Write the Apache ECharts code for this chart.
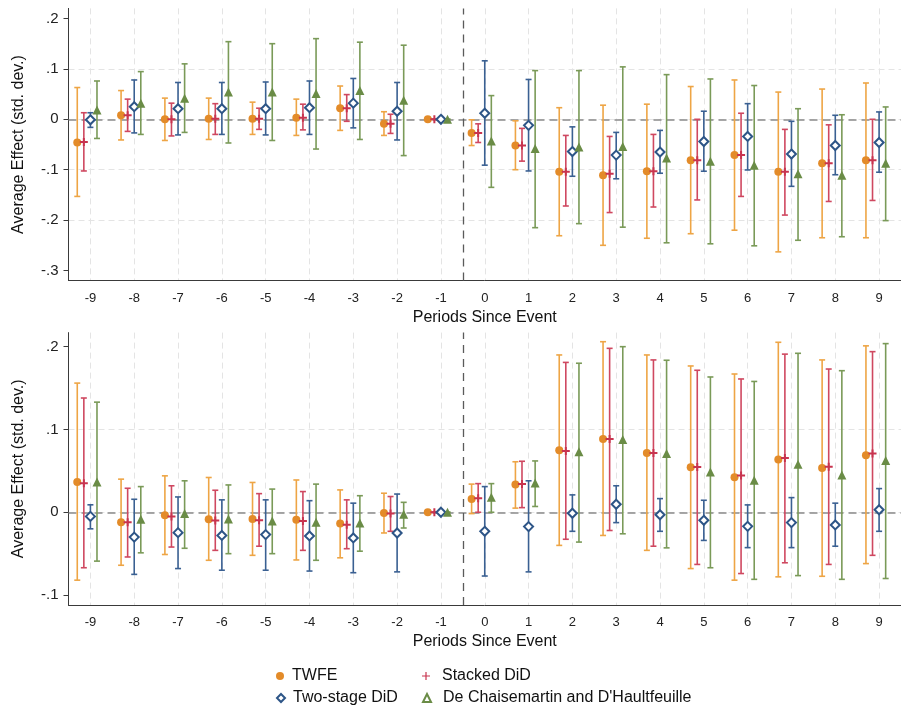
<!DOCTYPE html>
<html>
<head>
<meta charset="utf-8">
<script src="https://cdn.jsdelivr.net/npm/echarts@6.0.0/dist/echarts.min.js"></script>
<style>
  html, body { margin: 0; padding: 0; background: #fff; }
  #chart { width: 901px; height: 708px; }
</style>
</head>
<body>
<div id="chart"></div>
<script>
// 横轴: 事件前后期数
var periods = [-9, -8, -7, -6, -5, -4, -3, -2, -1, 0, 1, 2, 3, 4, 5, 6, 7, 8, 9];
var methods = ['TWFE', 'Stacked DiD', 'Two-stage DiD', "De Chaisemartin and D'Haultfeuille"];
var yTicksTop = [-0.3, -0.2, -0.1, 0, 0.1, 0.2];
var yTicksBottom = [-0.1, 0, 0.1, 0.2];

// 上图 - 点估计与置信区间
var twfeEstTop = [-0.046, 0.008, 0, 0.001, 0.001, 0.003, 0.022, -0.009, 0, -0.027, -0.052, -0.104, -0.111, -0.103, -0.081, -0.071, -0.104, -0.087, -0.081];
var twfeLoTop = [-0.153, -0.041, -0.042, -0.040, -0.030, -0.032, -0.022, -0.032, 0, -0.052, -0.100, -0.231, -0.250, -0.236, -0.227, -0.220, -0.263, -0.235, -0.235];
var twfeHiTop = [0.063, 0.057, 0.042, 0.042, 0.034, 0.040, 0.066, 0.015, 0, -0.001, -0.003, 0.023, 0.028, 0.030, 0.065, 0.078, 0.054, 0.060, 0.072];

var stackEstTop = [-0.045, 0.008, 0, 0.001, 0.001, 0.003, 0.022, -0.009, 0, -0.027, -0.052, -0.104, -0.108, -0.103, -0.081, -0.071, -0.104, -0.087, -0.081];
var stackLoTop = [-0.1025, -0.024, -0.033, -0.030, -0.020, -0.021, -0.004, -0.028, 0, -0.046, -0.083, -0.172, -0.185, -0.174, -0.160, -0.153, -0.190, -0.163, -0.161];
var stackHiTop = [0.013, 0.040, 0.032, 0.031, 0.022, 0.030, 0.049, 0.010, 0, -0.009, -0.018, -0.032, -0.034, -0.030, 0, 0.012, -0.020, -0.011, 0];

var twoEstTop = [-0.001, 0.025, 0.021, 0.021, 0.021, 0.023, 0.032, 0.016, 0, 0.012, -0.012, -0.064, -0.071, -0.065, -0.044, -0.034, -0.069, -0.052, -0.046];
var twoLoTop = [-0.016, -0.027, -0.031, -0.030, -0.031, -0.030, -0.017, -0.041, 0, -0.091, -0.1025, -0.113, -0.118, -0.107, -0.103, -0.1005, -0.133, -0.110, -0.105];
var twoHiTop = [0.013, 0.078, 0.073, 0.073, 0.074, 0.076, 0.081, 0.073, 0, 0.116, 0.079, -0.015, -0.026, -0.022, 0.016, 0.031, -0.004, 0.008, 0.0146];

var dchEstTop = [0.0185, 0.032, 0.042, 0.054, 0.054, 0.051, 0.057, 0.038, 0, -0.043, -0.058, -0.055, -0.054, -0.077, -0.083, -0.091, -0.108, -0.111, -0.087];
var dchLoTop = [-0.038, -0.030, -0.026, -0.047, -0.042, -0.059, -0.040, -0.072, 0, -0.135, -0.215, -0.207, -0.214, -0.245, -0.247, -0.251, -0.240, -0.233, -0.201];
var dchHiTop = [0.076, 0.0946, 0.110, 0.154, 0.150, 0.160, 0.153, 0.147, 0, 0.047, 0.0966, 0.0966, 0.104, 0.0886, 0.080, 0.067, 0.021, 0.009, 0.0245];

// 下图 - 点估计与置信区间
var twfeEstBot = [0.0366, -0.012, -0.0036, -0.0085, -0.008, -0.0089, -0.0137, -0.001, 0, 0.016, 0.0334, 0.075, 0.0886, 0.0717, 0.0543, 0.0423, 0.0636, 0.0535, 0.069];
var twfeLoBot = [-0.082, -0.064, -0.051, -0.058, -0.052, -0.0576, -0.055, -0.025, 0, -0.0016, 0.005, -0.040, -0.028, -0.046, -0.068, -0.082, -0.078, -0.0773, -0.062];
var twfeHiBot = [0.156, 0.040, 0.044, 0.042, 0.036, 0.039, 0.027, 0.023, 0, 0.034, 0.061, 0.190, 0.206, 0.190, 0.1767, 0.167, 0.2053, 0.184, 0.201];

var stackEstBot = [0.035, -0.012, -0.005, -0.010, -0.0097, -0.0105, -0.015, -0.0016, 0, 0.017, 0.034, 0.074, 0.0886, 0.0717, 0.0548, 0.0443, 0.0656, 0.055, 0.071];
var stackLoBot = [-0.067, -0.054, -0.042, -0.046, -0.041, -0.046, -0.044, -0.023, 0, 0, 0.0056, -0.0326, -0.022, -0.041, -0.063, -0.074, -0.061, -0.063, -0.052];
var stackHiBot = [0.138, 0.029, 0.032, 0.0266, 0.0225, 0.025, 0.015, 0.019, 0, 0.0346, 0.0616, 0.181, 0.198, 0.184, 0.1715, 0.161, 0.191, 0.173, 0.194];

var twoEstBot = [-0.005, -0.030, -0.0246, -0.028, -0.027, -0.0286, -0.031, -0.025, 0, -0.023, -0.0173, -0.0012, 0.0097, -0.003, -0.0097, -0.017, -0.0125, -0.0153, 0.003];
var twoLoBot = [-0.020, -0.075, -0.068, -0.070, -0.070, -0.071, -0.073, -0.072, 0, -0.077, -0.072, -0.023, -0.0125, -0.023, -0.034, -0.0427, -0.0427, -0.041, -0.023];
var twoHiBot = [0.009, 0.0157, 0.0185, 0.015, 0.015, 0.014, 0.011, 0.022, 0, 0.031, 0.038, 0.021, 0.032, 0.0165, 0.0145, 0.0089, 0.0177, 0.011, 0.0286];

var dchEstBot = [0.0366, -0.0085, -0.0016, -0.008, -0.0105, -0.012, -0.013, -0.0024, 0, 0.018, 0.0354, 0.073, 0.088, 0.071, 0.0487, 0.0386, 0.058, 0.045, 0.0624];
var dchLoBot = [-0.059, -0.049, -0.0435, -0.050, -0.050, -0.058, -0.047, -0.019, 0, 0, 0.007, -0.036, -0.026, -0.043, -0.067, -0.081, -0.0765, -0.081, -0.080];
var dchHiBot = [0.133, 0.031, 0.038, 0.033, 0.028, 0.034, 0.020, 0.012, 0, 0.0346, 0.062, 0.180, 0.200, 0.1836, 0.1634, 0.158, 0.192, 0.171, 0.2037];

var fontFamily = '"Liberation Sans", Arial, sans-serif';
var markColors = ['#E38B29', '#C8344F', '#2D5587', '#6A8C46'];
var barColors = ['#EEA545', '#CF4860', '#3A6092', '#7A9A58'];
var symbols = ['circle', 'path://M3,0H5V3H8V5H5V8H3V5H0V3H3Z', 'emptyDiamond', 'triangle'];
var legendIcons = ['circle', 'path://M3.4,0H4.6V3.4H8V4.6H4.6V8H3.4V4.6H0V3.4H3.4Z', 'emptyDiamond', 'emptyTriangle'];
var symbolSizes = [8, 8, 9, 9];
var dodge = [-0.3, -0.15, 0, 0.15];

var panels = [
    {est: [twfeEstTop, stackEstTop, twoEstTop, dchEstTop], lo: [twfeLoTop, stackLoTop, twoLoTop, dchLoTop], hi: [twfeHiTop, stackHiTop, twoHiTop, dchHiTop]},
    {est: [twfeEstBot, stackEstBot, twoEstBot, dchEstBot], lo: [twfeLoBot, stackLoBot, twoLoBot, dchLoBot], hi: [twfeHiBot, stackHiBot, twoHiBot, dchHiBot]}
];

// 刻度文字 .2 / -.1 格式
function stataLabel(v) {
    if (Math.abs(v) < 1e-9) return '0';
    return String(+v.toFixed(2)).replace('0.', '.');
}

var grids = [
    {left: 68.5, width: 846, top: 8.4, height: 272.2},
    {left: 68.5, width: 846, top: 332.6, height: 272.4}
];

var axisLineStyle = {color: '#3a3a3a', width: 1};
var gridLineStyle = {color: '#e4e4e4', width: 1, type: [6, 4]};

var xAxes = [], yAxes = [];
[0, 1].forEach(function (g) {
    xAxes.push({
        type: 'category', gridIndex: g, data: periods, boundaryGap: true, position: 'bottom',
        name: 'Periods Since Event', nameLocation: 'middle', nameGap: 29,
        nameTextStyle: {fontFamily: fontFamily, fontSize: 16, color: '#111'},
        axisLine: {onZero: false, lineStyle: axisLineStyle},
        axisTick: {alignWithLabel: true, length: 5, lineStyle: axisLineStyle},
        axisLabel: {fontFamily: fontFamily, fontSize: 13, color: '#222', margin: 11, interval: 0},
        splitLine: {show: true, alignWithLabel: true, lineStyle: gridLineStyle}
    });
    xAxes.push({
        type: 'value', gridIndex: g, min: -9.5, max: 9.5, show: false,
        axisLine: {onZero: false}
    });
    var ticks = g === 0 ? yTicksTop : yTicksBottom;
    yAxes.push({
        type: 'value', gridIndex: g, position: 'left',
        min: g === 0 ? -0.32 : -0.112, max: g === 0 ? 0.22 : 0.217,
        minInterval: 0.1, maxInterval: 0.1, splitNumber: 4,
        name: 'Average Effect (std. dev.)', nameLocation: 'middle', nameGap: 42,
        nameTextStyle: {fontFamily: fontFamily, fontSize: 16, color: '#111'},
        axisLine: {show: true, onZero: false, lineStyle: axisLineStyle},
        axisTick: {show: true, length: 5, lineStyle: axisLineStyle, customValues: ticks},
        axisLabel: {fontFamily: fontFamily, fontSize: 15, color: '#222', margin: 10, customValues: ticks, formatter: stataLabel},
        splitLine: {show: true, showMinLine: false, showMaxLine: false, lineStyle: gridLineStyle}
    });
});

// 误差线
function renderErrorBar(params, api) {
    var x = api.value(0);
    var top = api.coord([x, api.value(2)]);
    var bot = api.coord([x, api.value(1)]);
    var cap = 3;
    var style = {stroke: api.visual('color'), lineWidth: 1.6};
    return {
        type: 'group',
        children: [
            {type: 'line', shape: {x1: top[0], y1: top[1], x2: bot[0], y2: bot[1]}, style: style},
            {type: 'line', shape: {x1: top[0] - cap, y1: top[1], x2: top[0] + cap, y2: top[1]}, style: style},
            {type: 'line', shape: {x1: bot[0] - cap, y1: bot[1], x2: bot[0] + cap, y2: bot[1]}, style: style}
        ]
    };
}

var series = [];
panels.forEach(function (p, g) {
    // 参考线: 0 水平线, -0.5 竖线
    series.push({
        type: 'scatter', xAxisIndex: g * 2 + 1, yAxisIndex: g, data: [], silent: true, z: 1,
        markLine: {
            silent: true, symbol: 'none', z: 1, label: {show: false},
            data: [
                {yAxis: 0, lineStyle: {color: '#8a8a8a', width: 1.5, type: [8, 5]}},
                {xAxis: -0.5, lineStyle: {color: '#5a5a5a', width: 1.3, type: [8, 6]}}
            ]
        }
    });
    methods.forEach(function (m, k) {
        var bars = periods.map(function (t, i) {
            return [t + dodge[k], p.lo[k][i], p.hi[k][i]];
        });
        var pts = periods.map(function (t, i) {
            return [t + dodge[k], p.est[k][i]];
        });
        series.push({
            type: 'custom', name: m + ' CI', xAxisIndex: g * 2 + 1, yAxisIndex: g, z: 2,
            itemStyle: {color: barColors[k]}, renderItem: renderErrorBar,
            encode: {x: 0, y: [1, 2]}, data: bars, silent: true
        });
        series.push({
            type: 'scatter', name: m, xAxisIndex: g * 2 + 1, yAxisIndex: g, z: 3,
            symbol: symbols[k], symbolSize: symbolSizes[k],
            itemStyle: {color: markColors[k], borderColor: markColors[k], borderWidth: k === 2 ? 1.6 : 0, opacity: 1},
            data: pts, silent: true
        });
    });
});

// 图例: 两行两列, 每项单独放
var legendPos = [[276, 668, 3], [422, 668, 7], [276, 690, 3], [422, 690, 7]];
var legends = methods.map(function (m, k) {
    return {
        left: legendPos[k][0], top: legendPos[k][1], itemWidth: 8, itemHeight: 8,
        textStyle: {fontFamily: fontFamily, fontSize: 16, color: '#111', padding: [0, 0, 0, legendPos[k][2]]},
        selectedMode: false, padding: 0,
        data: [{name: m, icon: legendIcons[k]}]
    };
});

var option = {
    animation: false,
    backgroundColor: '#fff',
    grid: grids,
    xAxis: xAxes,
    yAxis: yAxes,
    legend: legends,
    series: series
};

var myChart = echarts.init(document.getElementById('chart'), null, {renderer: 'canvas'});
myChart.setOption(option);
</script>
</body>
</html>
